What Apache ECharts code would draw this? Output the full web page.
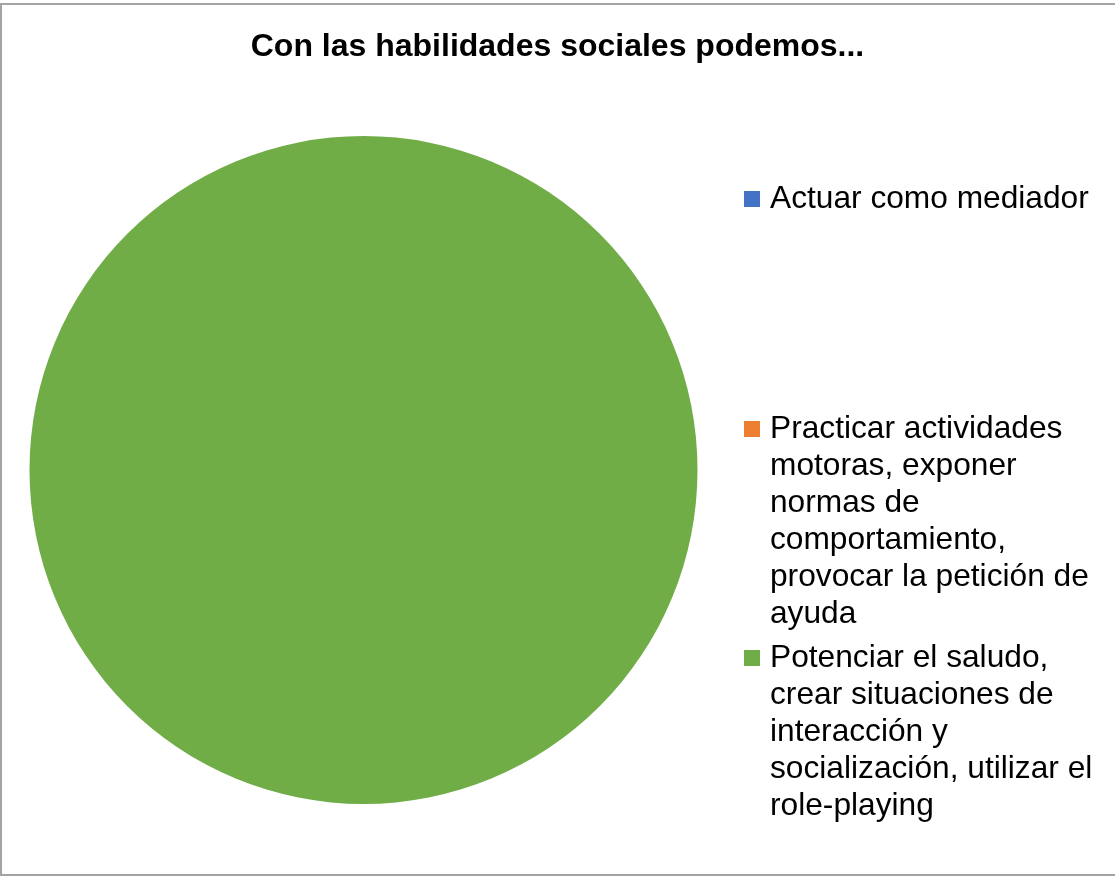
<!DOCTYPE html>
<html>
<head>
<meta charset="utf-8">
<title>Con las habilidades sociales podemos...</title>
<script src="https://cdn.jsdelivr.net/npm/echarts@6/dist/echarts.min.js"></script>
<style>
  html, body { margin: 0; padding: 0; background: #ffffff; overflow: hidden; }
  #chart { position: absolute; left: 0; top: 0; width: 1115px; height: 876px; }
  #frame {
    position: absolute; left: 0; top: 3px; width: 1130px; height: 869px;
    border: 2px solid #a3a3a3; pointer-events: none; box-sizing: content-box;
  }
</style>
</head>
<body>
<div id="chart"></div>
<div id="frame"></div>
<script>
// Chart data
const chartTitle = 'Con las habilidades sociales podemos...';
const categories = [
  'Actuar como mediador',
  'Practicar actividades motoras, exponer normas de comportamiento, provocar la petición de ayuda',
  'Potenciar el saludo, crear situaciones de interacción y socialización, utilizar el role-playing'
];
const values = [0, 0, 100];
const colors = ['#4472C4', '#ED7D31', '#70AD47'];

// Legend text wrapped line by line
const legendLines = [
  ['Actuar como mediador'],
  ['Practicar actividades', 'motoras, exponer', 'normas de', 'comportamiento,', 'provocar la petición de', 'ayuda'],
  ['Potenciar el saludo,', 'crear situaciones de', 'interacción y', 'socialización, utilizar el', 'role-playing']
];

// Vertical centre of the first line of each legend entry
const legendFirstLineY = [199, 429, 658];

const FONT = 'Liberation Sans, Arial, Helvetica, sans-serif';
const LEGEND_FONT = 31.7;
const LINE_H = 37;

// Each entry draws its own square marker on the first line and indents the rest,
// so the marker sits beside the first line rather than the middle of the block.
const legends = categories.map(function (name, i) {
  return {
    data: [name],
    orient: 'vertical',
    left: 739,
    top: legendFirstLineY[i] - LINE_H / 2,
    padding: 0,
    icon: 'rect',
    itemWidth: 0,
    itemHeight: 0,
    selectedMode: false,
    formatter: function () {
      return legendLines[i].map(function (line, k) {
        return (k === 0 ? '{sq|}{gap|}' : '{ind|}') + line;
      }).join('\n');
    },
    textStyle: {
      color: '#000000',
      fontFamily: FONT,
      fontSize: LEGEND_FONT,
      lineHeight: LINE_H,
      rich: {
        sq: { width: 16, height: 16, backgroundColor: colors[i], verticalAlign: 'middle' },
        gap: { width: 10, height: 16 },
        ind: { width: 26, height: 16 }
      }
    }
  };
});

const chart = echarts.init(document.getElementById('chart'), null, { renderer: 'canvas' });
chart.setOption({
  animation: false,
  backgroundColor: '#ffffff',
  color: colors,
  title: {
    text: chartTitle,
    left: 'center',
    top: 31,
    padding: 0,
    textStyle: {
      color: '#000000',
      fontFamily: FONT,
      fontSize: 32,
      fontWeight: 'bold'
    }
  },
  legend: legends,
  series: [{
    type: 'pie',
    center: [363.5, 470],
    radius: 334,
    startAngle: 90,
    clockwise: true,
    label: { show: false },
    labelLine: { show: false },
    emphasis: { disabled: true },
    itemStyle: { borderWidth: 0 },
    data: categories.map(function (name, i) {
      return { name: name, value: values[i], itemStyle: { color: colors[i] } };
    })
  }]
});
</script>
</body>
</html>
